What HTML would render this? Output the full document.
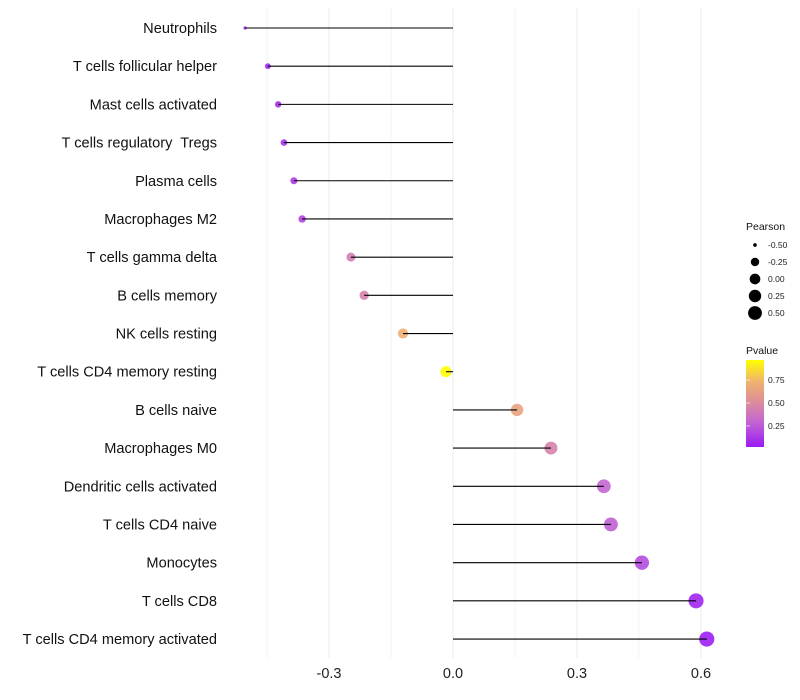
<!DOCTYPE html>
<html><head><meta charset="utf-8"><style>
html,body{margin:0;padding:0;background:#fff;}
svg{display:block;font-family:"Liberation Sans",sans-serif;}
text{white-space:pre;}
</style></head><body>
<svg id="chart" width="800" height="700">
<defs><linearGradient id="pgrad" x1="0" y1="1" x2="0" y2="0">
<stop offset="0" stop-color="#9B1BF5"/><stop offset="0.3" stop-color="#C468D0"/><stop offset="0.5" stop-color="#DA8A9E"/><stop offset="0.75" stop-color="#F0B26E"/><stop offset="1" stop-color="#FFFF00"/>
</linearGradient></defs>
<g id="grid"></g><g id="marks"></g><g id="labels"></g><g id="legend"></g>
</svg>
<script>
const categories=["Neutrophils","T cells follicular helper","Mast cells activated","T cells regulatory  Tregs","Plasma cells","Macrophages M2","T cells gamma delta","B cells memory","NK cells resting","T cells CD4 memory resting","B cells naive","Macrophages M0","Dendritic cells activated","T cells CD4 naive","Monocytes","T cells CD8","T cells CD4 memory activated"];
const pearson=[-0.503,-0.448,-0.423,-0.409,-0.385,-0.365,-0.247,-0.215,-0.121,-0.017,0.155,0.237,0.365,0.382,0.457,0.588,0.614];
const pvalues=[0.04,0.07,0.09,0.11,0.14,0.17,0.42,0.45,0.72,0.97,0.65,0.45,0.3,0.28,0.2,0.06,0.03];
const xTicks=[-0.3,0.0,0.3,0.6];
const xTickLabels=["-0.3","0.0","0.3","0.6"];
const sizeLegend=[-0.5,-0.25,0,0.25,0.5];
const sizeLegendLabels=["-0.50","-0.25","0.00","0.25","0.50"];
const colorTicks=[0.25,0.5,0.75];
const colorTickLabels=["0.25","0.50","0.75"];

const NS="http://www.w3.org/2000/svg";
function mk(t,a,p){const e=document.createElementNS(NS,t);for(const k in a)e.setAttribute(k,a[k]);p.appendChild(e);return e;}
const x=v=>453+v*413.3;
const y=i=>28+i*38.19;
const r=v=>{const t=Math.max(0,Math.min(1,(v+0.503)/1.117));return 1.6+6*Math.sqrt(t);};
const stops=[[0,[155,27,245]],[0.3,[196,104,208]],[0.5,[218,138,158]],[0.75,[240,178,110]],[1,[255,255,0]]];
function col(p){const t=Math.max(0,Math.min(1,(p-0.02)/0.95));for(let i=1;i<stops.length;i++){if(t<=stops[i][0]){const a=stops[i-1],b=stops[i],f=(t-a[0])/(b[0]-a[0]);const c=a[1].map((v,k)=>Math.round(v+(b[1][k]-v)*f));return `rgb(${c.join(',')})`;}}return 'rgb(255,255,0)';}

const grid=document.getElementById('grid'),marks=document.getElementById('marks'),labels=document.getElementById('labels'),legend=document.getElementById('legend');
for(let v=-0.45;v<=0.66;v+=0.15){const g=mk('line',{x1:x(v),x2:x(v),y1:8,y2:658,stroke:'#ebebeb','stroke-width':Math.abs(Math.round(v/0.15))%2===0?1:0.6},grid);

}
xTicks.forEach((v,i)=>{const t=mk('text',{x:x(v),y:678,'text-anchor':'middle','font-size':14.5,fill:'#222'},labels);t.textContent=xTickLabels[i];

});
categories.forEach((c,i)=>{const t=mk('text',{x:217,y:y(i)+5,'text-anchor':'end','font-size':14.6,fill:'#111'},labels);t.textContent=c;


const pt=mk('circle',{cx:x(pearson[i]),cy:y(i),r:r(pearson[i]),fill:col(pvalues[i]),'fill-opacity':0.9},marks);


const s=mk('line',{x1:x(0),x2:x(pearson[i]),y1:y(i),y2:y(i),stroke:'#000','stroke-width':1.1},marks);

});
const lt=mk('text',{x:746,y:230,'font-size':10.5,fill:'#111'},legend);lt.textContent='Pearson';


sizeLegend.forEach((v,i)=>{const cy=245+i*17;const c=mk('circle',{cx:755,cy:cy,r:r(v)*0.95,fill:'#000'},legend);


const t=mk('text',{x:768,y:cy+3,'font-size':8.5,fill:'#222'},legend);t.textContent=sizeLegendLabels[i];

});
const ct=mk('text',{x:746,y:354,'font-size':10.5,fill:'#111'},legend);ct.textContent='Pvalue';


const bar=mk('rect',{x:746,y:360,width:18,height:87,fill:'url(#pgrad)'},legend);


colorTicks.forEach((v,i)=>{const yy=447-(v-0.02)/0.95*87;const l=mk('line',{x1:746,x2:750,y1:yy,y2:yy,stroke:'#fff','stroke-opacity':0.6},legend);


const t=mk('text',{x:768,y:yy+3,'font-size':8.5,fill:'#222'},legend);t.textContent=colorTickLabels[i];

});
</script>
</body></html>
